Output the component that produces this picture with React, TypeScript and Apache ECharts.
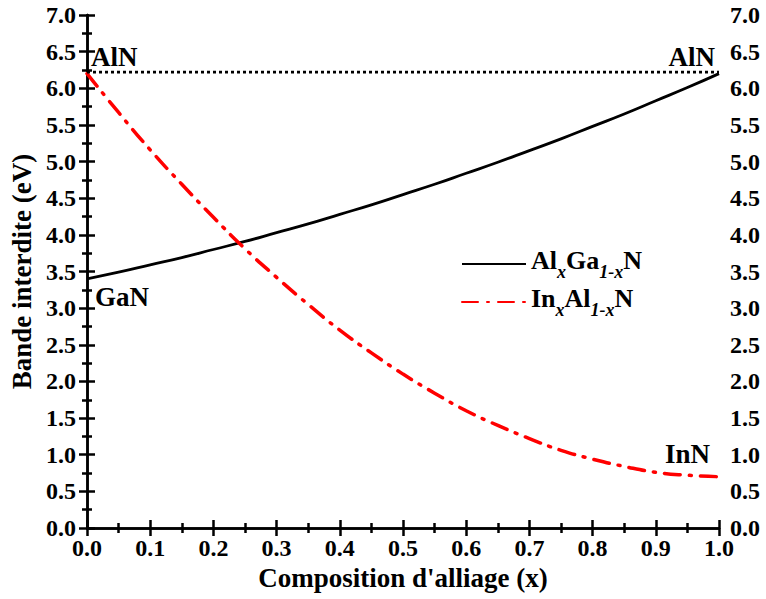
import React, { useEffect, useRef } from "react";
import * as echarts from "echarts";

const xValues = [0, 0.05, 0.1, 0.15, 0.2, 0.25, 0.3, 0.35, 0.4, 0.45, 0.5, 0.55, 0.6, 0.65, 0.7, 0.75, 0.8, 0.85, 0.9, 0.95, 1.0];
const alGaN = [3.40, 3.49, 3.59, 3.69, 3.80, 3.91, 4.03, 4.15, 4.28, 4.41, 4.55, 4.69, 4.84, 4.99, 5.15, 5.31, 5.48, 5.65, 5.83, 6.01, 6.20];
const inAlN = [6.20, 5.67, 5.16, 4.69, 4.24, 3.81, 3.42, 3.05, 2.70, 2.39, 2.10, 1.84, 1.60, 1.40, 1.22, 1.06, 0.94, 0.84, 0.76, 0.72, 0.70];
const alnLevel = [[0, 6.22], [1, 6.22]];
const seriesNames = ["AlGaN", "InAlN"];

const FONT = "Liberation Serif";

export default function App() {
  const ref = useRef<HTMLDivElement>(null);
  useEffect(() => {
    if (!ref.current) return;
    const chart = echarts.init(ref.current, null, { renderer: "svg" });
    const axisLine = { show: true, lineStyle: { color: "#000", width: 2.5 } };
    const axisTick = { show: true, inside: true, length: 8, lineStyle: { color: "#000", width: 2.5 } };
    const minorTick = { show: true, splitNumber: 2, length: 5, lineStyle: { color: "#000", width: 2.5 } };
    const labelStyle = { color: "#000", fontFamily: FONT, fontWeight: "bold" as const, fontSize: 24 };
    const fmt = (v: number) => v.toFixed(1);
    const xAxisBase = { type: "value" as const, min: 0, max: 1, interval: 0.1, splitLine: { show: false }, axisLine, axisTick, minorTick };
    const yAxisBase = { type: "value" as const, min: 0, max: 7, interval: 0.5, splitLine: { show: false }, axisLine, axisTick, minorTick };
    const textBase = { fill: "#000", fontFamily: FONT, fontWeight: "bold", fontSize: 27 };
    chart.setOption({
      animation: false,
      backgroundColor: "#fff",
      grid: { left: 86, right: 47, top: 15, bottom: 71, containLabel: false },
      xAxis: [
        {
          ...xAxisBase,
          position: "bottom",
          name: "Composition d'alliage (x)",
          nameLocation: "middle",
          nameGap: 36,
          nameTextStyle: { ...labelStyle, fontSize: 27 },
          axisLabel: { ...labelStyle, margin: 8, formatter: fmt },
        },
        { ...xAxisBase, position: "top", axisLabel: { show: false } },
      ],
      yAxis: [
        {
          ...yAxisBase,
          position: "left",
          name: "Bande interdite (eV)",
          nameLocation: "middle",
          nameGap: 52,
          nameTextStyle: { ...labelStyle, fontSize: 27 },
          axisLabel: { ...labelStyle, margin: 11, formatter: fmt },
        },
        { ...yAxisBase, position: "right", axisLabel: { ...labelStyle, margin: 11, formatter: fmt } },
      ],
      legend: {
        data: seriesNames,
        orient: "vertical",
        left: 456,
        top: 242,
        itemWidth: 64,
        itemHeight: 14,
        itemGap: 4,
        itemStyle: { opacity: 0 },
        formatter: (name: string) =>
          name === "AlGaN"
            ? "{n|Al}{s|x}{n|Ga}{s|1-x}{n|N}"
            : "{n|In}{s|x}{n|Al}{s|1-x}{n|N}",
        textStyle: {
          color: "#000",
          fontFamily: FONT,
          rich: {
            n: { fontFamily: FONT, fontWeight: "bold", fontSize: 26, lineHeight: 34, verticalAlign: "top" },
            s: { fontFamily: FONT, fontWeight: "bold", fontStyle: "italic", fontSize: 18, lineHeight: 18, verticalAlign: "bottom" },
          },
        },
      },
      series: [
        {
          name: "AlGaN",
          type: "line",
          data: xValues.map((x, i) => [x, alGaN[i]]),
          smooth: true,
          showSymbol: false,
          symbol: "none",
          lineStyle: { color: "#000", width: 2.8, type: "solid" },
          itemStyle: { color: "#000" },
        },
        {
          name: "InAlN",
          type: "line",
          data: xValues.map((x, i) => [x, inAlN[i]]),
          smooth: true,
          showSymbol: false,
          symbol: "none",
          lineStyle: { color: "#ff0000", width: 3.5, type: [16, 9, 2, 9], cap: "round" },
          itemStyle: { color: "#ff0000" },
        },
        {
          name: "AlN level",
          type: "line",
          data: alnLevel,
          showSymbol: false,
          symbol: "none",
          lineStyle: { color: "#000", width: 2.8, type: [3, 3] },
        },
      ],
      graphic: [
        { type: "text", left: 91, top: 43, style: { ...textBase, text: "AlN" } },
        { type: "text", right: 51, top: 43, style: { ...textBase, text: "AlN" } },
        { type: "text", left: 95, top: 283, style: { ...textBase, text: "GaN" } },
        { type: "text", right: 56, top: 440, style: { ...textBase, text: "InN" } },
      ],
    });
    return () => chart.dispose();
  }, []);
  return <div ref={ref} style={{ position: "fixed", left: 0, top: 0, width: 766, height: 599 }} />;
}
